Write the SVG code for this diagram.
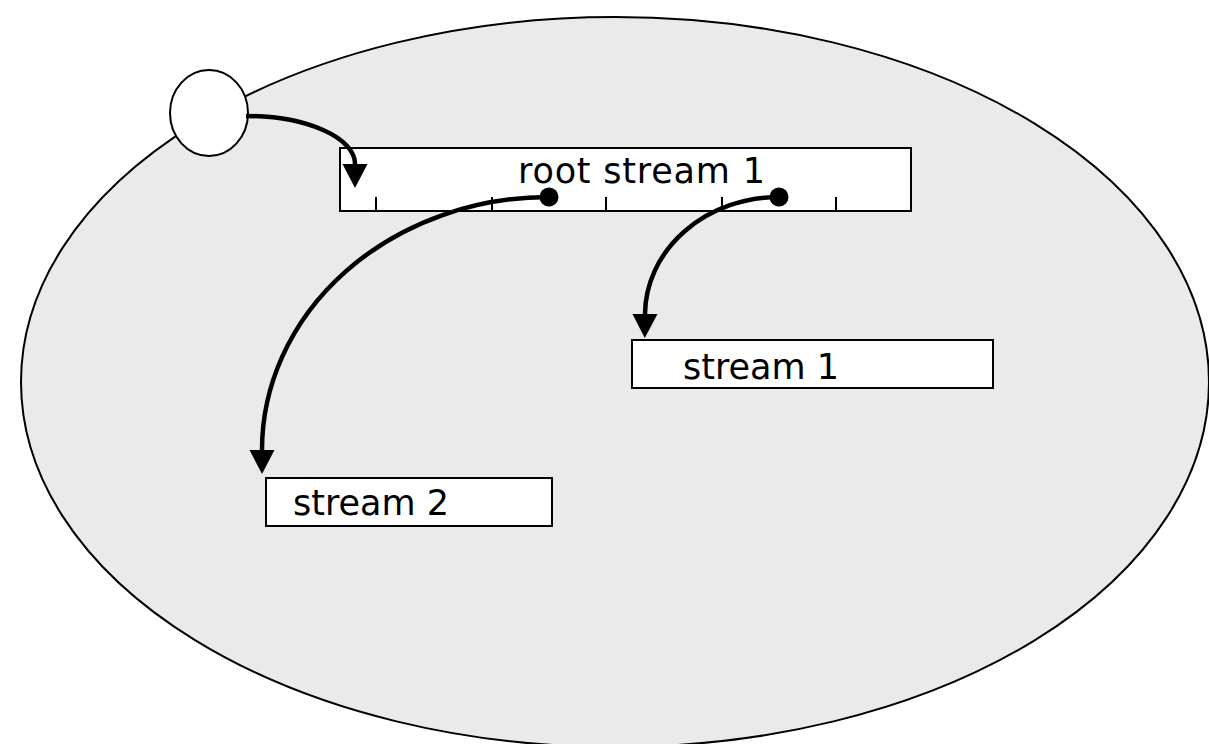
<svg xmlns="http://www.w3.org/2000/svg" width="1209" height="744" viewBox="0 0 1209 744">
  <style>
    .box { fill: #ffffff; stroke: #000000; stroke-width: 2; }
    .tick { stroke: #000000; stroke-width: 2; fill: none; }
    .label { font-family: "DejaVu Sans", Verdana, sans-serif; font-size: 35px; fill: #000000; }
    .edge { fill: none; stroke: #000000; stroke-width: 4.5; marker-end: url(#arrow); }
    .dot { fill: #000000; }
  </style>
  <defs>
    <marker id="arrow" markerUnits="userSpaceOnUse" markerWidth="26" markerHeight="26" refX="0" refY="12.5" orient="auto" overflow="visible">
      <path d="M0,0 L24,12.5 L0,25 z" fill="#000000"/>
    </marker>
  </defs>

  <!-- enclosing region -->
  <g id="region">
    <ellipse cx="615" cy="382" rx="594" ry="365" fill="#eaeaea" stroke="#000000" stroke-width="2"/>
  </g>

  <!-- entry point -->
  <g id="source">
    <ellipse cx="209" cy="113" rx="39" ry="43" fill="#ffffff" stroke="#000000" stroke-width="2"/>
  </g>

  <!-- root stream with tick marks -->
  <g id="root-stream">
    <rect class="box" x="340" y="148" width="571" height="63"/>
    <path class="tick" d="M376,197V211 M492,197V211 M606,197V211 M722,197V211 M836,197V211"/>
    <text class="label" x="518" y="183" letter-spacing="0.8">root stream 1</text>
  </g>

  <g id="stream-1">
    <rect class="box" x="632" y="340" width="361" height="48"/>
    <text class="label" x="683" y="379">stream 1</text>
  </g>

  <g id="stream-2">
    <rect class="box" x="266" y="478" width="286" height="48"/>
    <text class="label" x="293" y="515">stream 2</text>
  </g>

  <!-- connectors -->
  <g id="connectors">
    <path class="edge" d="M246,116 A109,48 0 0 1 355,164"/>
    <path class="edge" d="M549,197 A287,253 0 0 0 262,450"/>
    <path class="edge" d="M779,197 A134,118 0 0 0 645,314"/>
    <circle class="dot" cx="549" cy="197" r="9.5"/>
    <circle class="dot" cx="779" cy="197" r="9.5"/>
  </g>
</svg>
